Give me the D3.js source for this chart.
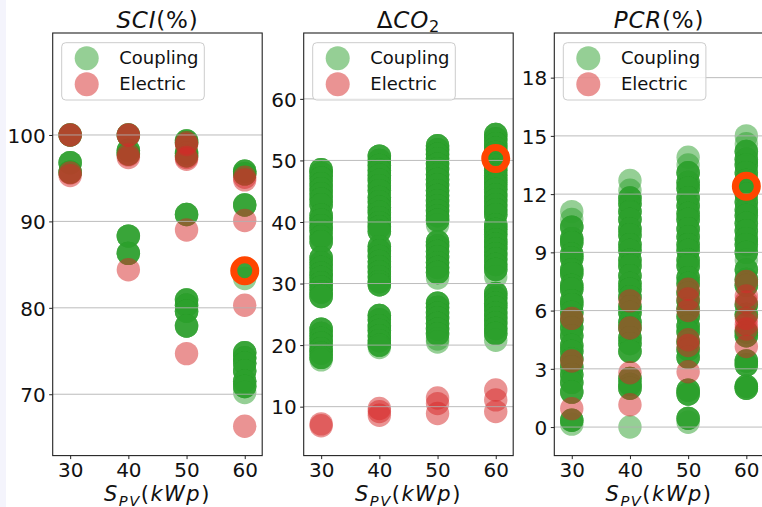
<!DOCTYPE html>
<html>
<head>
<meta charset="utf-8">
<script src="https://cdn.jsdelivr.net/npm/d3@7"></script>
<style>
  html, body { margin: 0; padding: 0; background: #fff; }
  svg { display: block; }
</style>
</head>
<body>
<script>
// PV array sizes (kWp) on the x axis
const pvSizes = [30, 40, 50, 60];
const xTickValues = [30, 40, 50, 60];

// Coupling results recur across several configurations: values in the
// main lists are reached by `couplingRepeat` configurations, values in the
// *Single lists by only one.
const couplingRepeat = 4;

// SCI (%) per PV size
const sciCoupling = [
  [100, 96.8, 95.7],
  [100, 98.2, 97.8, 88.3, 86.3],
  [99.3, 99.1, 97.9, 97.6, 90.8, 80.9, 80.3, 79.6, 77.9],
  [95.8, 95.5, 91.9, 84.3, 74.8, 74.2, 73.6, 72.7, 71.5, 70.9]
];
const sciCouplingSingle = [[], [], [], [83.4, 70.2]];
const sciElectric = [
  [100, 100, 95.6, 95.3],
  [100, 100, 97.7, 97.4, 84.4],
  [99.1, 98.9, 97.4, 97.2, 89.0, 74.7],
  [95.1, 94.8, 90.1, 80.3, 66.3]
];
const sciSelected = 84.3;
const sciTicks = [70, 80, 90, 100];

// ΔCO2 per PV size
const co2Coupling = [
  [48.5, 47.9, 47.1, 46.2, 45.4, 44.6, 43.7, 42.8, 41.1, 40.3, 39.4, 38.6, 37.6, 36.8,
   34.2, 33.4, 32.6, 31.7, 31.0, 30.1, 29.4, 28.6, 27.9,
   22.6, 21.9, 21.1, 20.3, 19.4, 18.7, 18.0],
  [50.7, 50.0, 49.2, 48.4, 47.6, 46.8, 45.9, 45.1, 44.0, 43.3, 42.4, 41.6, 40.7, 39.9, 39.2, 38.5,
   36.0, 35.3, 34.4, 33.6, 32.7, 31.9, 31.1, 30.3, 29.8,
   24.8, 24.1, 23.1, 22.4, 21.5, 20.7, 20.0],
  [52.4, 51.7, 51.0, 50.3, 49.4, 48.6, 47.7, 46.9, 46.0, 45.1, 44.3, 43.4, 42.6, 41.8, 41.0, 40.3,
   36.8, 36.1, 35.2, 34.3, 33.4, 32.6, 31.8,
   26.8, 26.1, 25.2, 24.4, 23.5, 22.6, 21.8],
  [54.2, 53.5, 52.7, 52.0, 51.3, 50.6, 49.9, 49.2, 48.4, 47.6, 46.8, 46.1, 45.3, 44.4, 43.6, 42.8, 42.0, 41.2,
   39.5, 38.8, 38.0, 37.1, 36.4, 35.6, 34.8, 34.0, 33.1, 32.3,
   28.4, 27.7, 26.8, 26.1, 25.2, 24.4, 23.6, 22.7, 21.9]
];
const co2CouplingSingle = [[17.6], [19.6], [39.5, 30.9, 21.0, 20.5], [31.1, 20.8]];
const co2Electric = [
  [7.2, 6.9],
  [9.7, 9.2, 8.6],
  [11.4, 10.5, 8.9],
  [12.7, 11.1, 9.2]
];
const co2Selected = 50.3;
const co2Ticks = [10, 20, 30, 40, 50, 60];

// PCR (%) per PV size
const pcrCoupling = [
  [10.3, 9.7, 9.5, 8.9, 8.7, 8.1, 7.9, 7.3, 7.1, 6.5, 6.3, 5.9, 5.5, 5.1,
   4.7, 4.2, 3.9, 3.5, 3.1, 2.7, 2.3, 1.8, 0.35],
  [11.8, 11.5, 11.1, 10.7, 10.2, 9.9, 9.4, 9.1, 8.6, 8.3, 7.8, 7.4, 7.1, 6.7,
   6.2, 5.9, 5.4, 5.1, 4.6, 4.3, 3.9, 2.5, 2.2, 2.0],
  [13.1, 12.6, 12.3, 11.8, 11.4, 11.0, 10.7, 10.2, 9.8, 9.4, 9.1, 8.6, 8.3,
   7.7, 7.4, 6.9, 6.5, 6.1, 5.7, 5.2, 4.9, 4.4, 4.0, 3.6, 1.9, 1.7, 0.45],
  [14.2, 13.8, 13.5, 13.1, 12.7, 12.4, 12.0, 11.6, 11.2, 10.9, 10.5, 10.1,
   9.7, 9.4, 9.0, 8.1, 7.6, 7.3, 6.3, 5.8, 4.9, 4.7, 3.4, 3.2, 2.1, 2.0]
];
const pcrCouplingSingle = [[11.1, 10.7, 0.15], [12.7, 12.2, 0.0], [13.9, 13.5, 0.25], [15.0, 14.6, 8.6]];
const pcrElectric = [
  [5.6, 3.4, 0.95],
  [6.5, 5.1, 2.8, 1.15],
  [7.1, 6.6, 6.0, 4.5, 4.2, 2.85],
  [7.5, 6.75, 6.45, 5.6, 5.3, 5.05, 4.15]
];
const pcrSelected = 12.4;
const pcrTicks = [0, 3, 6, 9, 12, 15, 18];

const seriesNames = ["Coupling", "Electric"];
const seriesColors = ["#2ca02c", "#d62728"];
const selectedSize = 60;

// ---- layout ----
const W = 762, H = 507;
const FONT = "'DejaVu Sans', sans-serif";
const axTop = 33, axBottom = 455.6, axW = 209.5;

const panels = [
  { left: 52.7, domain: [62.9, 111.8], ticks: sciTicks,
    coupling: sciCoupling, single: sciCouplingSingle, electric: sciElectric, selected: sciSelected,
    title: [{ t: "SCI", i: true }, { t: "(%)" }] },
  { left: 303.7, domain: [2.05, 70.7], ticks: co2Ticks,
    coupling: co2Coupling, single: co2CouplingSingle, electric: co2Electric, selected: co2Selected,
    title: [{ t: "Δ" }, { t: "CO", i: true }, { t: "2", sub: true }] },
  { left: 554.3, domain: [-1.47, 20.3], ticks: pcrTicks,
    coupling: pcrCoupling, single: pcrCouplingSingle, electric: pcrElectric, selected: pcrSelected,
    title: [{ t: "PCR", i: true }, { t: "(%)" }] }
];
const xLabelParts = [
  { t: "S", i: true }, { t: "PV", i: true, sub: true }, { t: "(" },
  { t: "kWp", i: true }, { t: ")" }
];

const svg = d3.select("body").append("svg")
  .attr("width", W).attr("height", H)
  .attr("viewBox", `0 0 ${W} ${H}`);

svg.append("rect").attr("width", W).attr("height", H).attr("fill", "#fff");
// faint strip along the left edge
svg.append("rect").attr("x", 0).attr("y", 0).attr("width", 6).attr("height", H).attr("fill", "#f4f4fc");

function mathText(sel, parts, size, subShift) {
  parts.forEach((p, k) => {
    const prev = k > 0 ? parts[k - 1] : null;
    const ts = sel.append("tspan")
      .text(p.t)
      .attr("font-style", p.i ? "italic" : "normal")
      .attr("font-size", p.sub ? size * 0.7 : size);
    if (p.sub) ts.attr("dy", subShift);
    else if (prev && prev.sub) ts.attr("dy", -subShift);
  });
}

const R = 11.7;

panels.forEach(pn => {
  const x = d3.scaleLinear().domain([27, 63]).range([pn.left, pn.left + axW]);
  const y = d3.scaleLinear().domain(pn.domain).range([axBottom, axTop]);
  const g = svg.append("g");

  // clip marks to the plotting area
  const clipId = "clip" + Math.round(pn.left);
  svg.append("clipPath").attr("id", clipId)
    .append("rect").attr("x", pn.left).attr("y", axTop)
    .attr("width", axW).attr("height", axBottom - axTop);
  const plot = g.append("g").attr("clip-path", `url(#${clipId})`);

  // coupling points (one circle per configuration), electric points on top
  const couplingPts = [];
  pn.coupling.forEach((vals, ci) => vals.forEach(v => {
    for (let k = 0; k < couplingRepeat; k++) couplingPts.push({ s: pvSizes[ci], v });
  }));
  pn.single.forEach((vals, ci) => vals.forEach(v => couplingPts.push({ s: pvSizes[ci], v })));
  const electricPts = [];
  pn.electric.forEach((vals, ci) => vals.forEach(v => electricPts.push({ s: pvSizes[ci], v })));

  [couplingPts, electricPts].forEach((pts, si) => {
    plot.append("g").selectAll("circle").data(pts).join("circle")
      .attr("cx", d => x(d.s)).attr("cy", d => y(d.v)).attr("r", R)
      .attr("fill", seriesColors[si]).attr("fill-opacity", 0.5);
  });

  // horizontal grid
  plot.append("g").selectAll("line").data(pn.ticks).join("line")
    .attr("x1", pn.left).attr("x2", pn.left + axW)
    .attr("y1", d => y(d)).attr("y2", d => y(d))
    .attr("stroke", "#b0b0b0").attr("stroke-opacity", 0.85).attr("stroke-width", 1);

  // selected design marker
  plot.append("circle")
    .attr("cx", x(selectedSize)).attr("cy", y(pn.selected)).attr("r", 11)
    .attr("fill", "none").attr("stroke", "#ff4500").attr("stroke-width", 7);

  // axes
  const yAxis = d3.axisLeft(y).tickValues(pn.ticks).tickSize(3.5).tickPadding(3.5).tickFormat(d3.format("d"));
  const xAxis = d3.axisBottom(x).tickValues(xTickValues).tickSize(3.5).tickPadding(3.5).tickFormat(d3.format("d"));
  const ya = g.append("g").attr("transform", `translate(${pn.left},0)`).call(yAxis);
  const xa = g.append("g").attr("transform", `translate(0,${axBottom})`).call(xAxis);
  [ya, xa].forEach(a => {
    a.select(".domain").remove();
    a.selectAll("line").attr("stroke", "#222").attr("stroke-width", 1);
    a.selectAll("text").attr("font-family", FONT).attr("font-size", 20).attr("fill", "#111");
  });
  ya.selectAll("text").attr("dy", "0.36em");
  xa.selectAll("text").attr("dy", "0.7em");

  // spines
  g.append("rect").attr("x", pn.left).attr("y", axTop)
    .attr("width", axW).attr("height", axBottom - axTop)
    .attr("fill", "none").attr("stroke", "#222").attr("stroke-width", 1.1);

  // legend
  const lg = g.append("g").attr("transform", `translate(${pn.left + 9},42.7)`);
  lg.append("rect").attr("width", 142.6).attr("height", 57.3).attr("rx", 4)
    .attr("fill", "#fff").attr("fill-opacity", 0.8)
    .attr("stroke", "#cccccc").attr("stroke-width", 1);
  seriesNames.forEach((name, i) => {
    lg.append("circle").attr("cx", 25).attr("cy", 15.6 + i * 26).attr("r", 12)
      .attr("fill", seriesColors[i]).attr("fill-opacity", 0.5);
    lg.append("text").attr("x", 57.6).attr("y", 21.6 + i * 26)
      .attr("font-family", FONT).attr("font-size", 18).attr("fill", "#111")
      .text(name);
  });

  // title
  const cx = pn.left + axW / 2;
  const tt = svg.append("text").attr("x", cx).attr("y", 28)
    .attr("text-anchor", "middle").attr("font-family", FONT).attr("fill", "#111")
    .attr("letter-spacing", 0.8);
  mathText(tt, pn.title, 23, 4);

  // x label
  const xl = svg.append("text").attr("x", cx).attr("y", 501)
    .attr("text-anchor", "middle").attr("font-family", FONT).attr("fill", "#111")
    .attr("letter-spacing", 1.5);
  mathText(xl, xLabelParts, 21, 4.5);
});
</script>
</body>
</html>
